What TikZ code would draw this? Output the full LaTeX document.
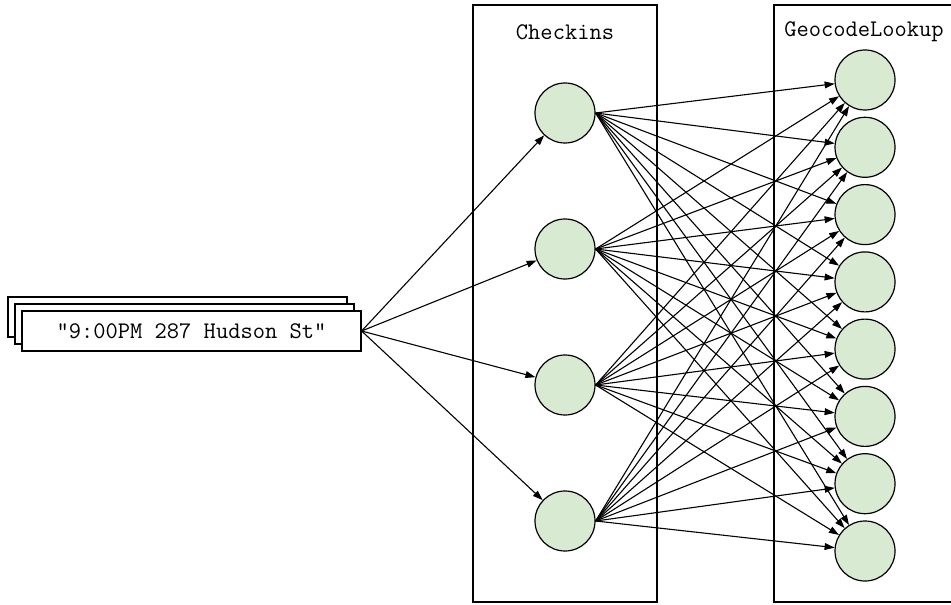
\documentclass[tikz,border=0pt]{standalone}
\usetikzlibrary{arrows.meta}
\definecolor{cfill}{HTML}{D9EAD3}
\begin{document}
\begin{tikzpicture}[x=0.5pt,y=-0.5pt,
  lbl/.style={font=\ttfamily\fontsize{11.9pt}{14pt}\selectfont, inner sep=0pt},
  dot/.style={circle, draw, line width=0.6pt, fill=cfill, minimum size=30pt, inner sep=0pt},
  card/.style={rectangle, draw, line width=0.6pt, fill=white, minimum width=169.5pt, minimum height=20pt, inner sep=0pt},
  panel/.style={draw, line width=0.6pt},
  arr/.style={-{Triangle[length=5pt,width=3.4pt]}, line width=0.55pt}]
\useasboundingbox (0,0) rectangle (951,604);
\clip (0,0) rectangle (951,604);
% panels
\draw[panel] (473,5) rectangle (657,602);
\draw[panel] (774,5) rectangle (970,602);
\node[lbl] (hc) at (565,32) {Checkins};
\node[lbl] (hg) at (864,32) {GeocodeLookup};
% stacked input cards
\node[card] (b1) at (177.5,317) {};
\node[card] (b2) at (184.5,324) {};
\node[card, lbl, minimum width=169.5pt, minimum height=20pt, draw, fill=white, line width=0.6pt] (in) at (191.5,331) {"9:00PM 287 Hudson St"};
% checkins nodes
\foreach \i/\y in {1/113,2/249,3/385,4/521}
  \node[dot] (c\i) at (565,\y) {};
% geocode nodes
\foreach \j/\y in {1/80,2/147.3,3/214.6,4/281.9,5/349.1,6/416.4,7/483.7,8/551}
  \node[dot] (g\j) at (865,\y) {};
% edges
\foreach \i in {1,...,4}
  \draw[arr] (in.east) -- (c\i);
\foreach \i in {1,...,4}
  \foreach \j in {1,...,8}
    \draw[arr] (c\i.east) -- (g\j);
\end{tikzpicture}
\end{document}
